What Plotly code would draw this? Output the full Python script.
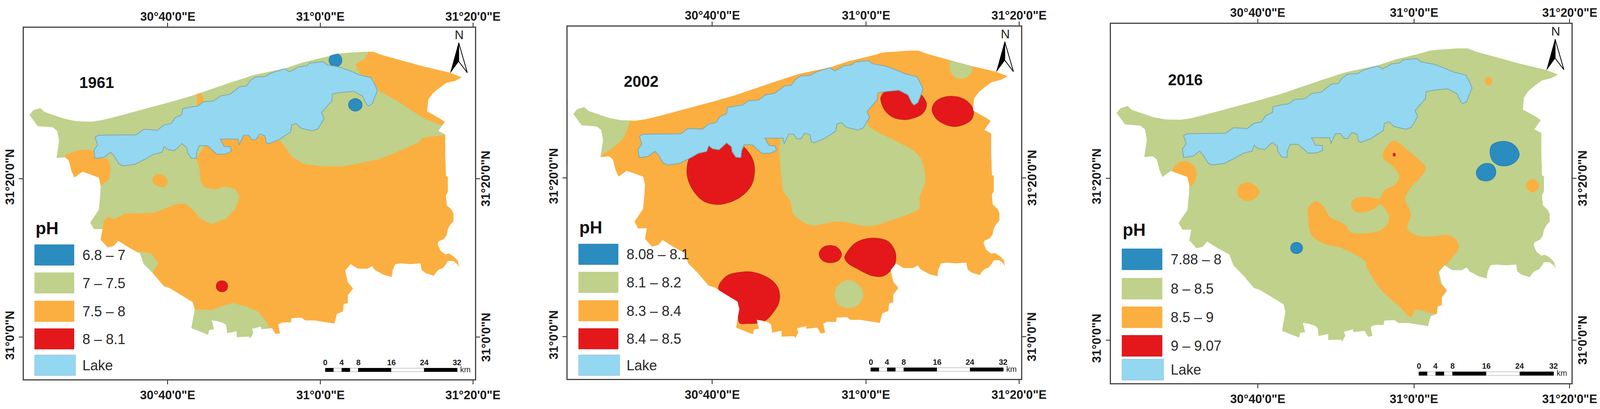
# plot.py - three pH maps of the same governorate (1961, 2002, 2016)
import plotly.graph_objects as go

# All polygons are (x, y) readings on one map grid shared by the three panels.
# The tick positions below tie that grid to longitude and latitude.
LON_TICKS = [437, 845, 1252]
LON_LABELS = ["30°40'0\"E", "31°0'0\"E", "31°20'0\"E"]
LAT_TICKS = [460, 868]
LAT_LABELS = ["31°20'0\"N", "31°0'0\"N"]

OUTLINE = [
    (68, 296), (78, 284), (97, 278), (108, 288), (135, 297), (163, 306), (195, 312), (235, 313),
    (262, 309), (300, 300), (350, 287), (400, 274), (450, 261), (500, 247), (600, 214), (667, 193),
    (750, 176), (800, 160), (865, 145), (885, 139), (900, 137), (960, 133), (985, 133), (1010, 142),
    (1060, 155), (1120, 171), (1190, 187), (1222, 199), (1205, 208), (1180, 214), (1160, 228),
    (1145, 240), (1133, 256), (1130, 281), (1130, 287), (1165, 306), (1177, 314), (1168, 326),
    (1160, 337), (1178, 346), (1178, 399), (1180, 453), (1185, 455), (1185, 494), (1180, 503),
    (1182, 528), (1195, 540), (1200, 550), (1200, 570), (1192, 578), (1185, 590), (1182, 605),
    (1175, 615), (1160, 622), (1158, 628), (1165, 645), (1178, 655), (1188, 653), (1200, 660),
    (1212, 672), (1215, 688), (1210, 680), (1200, 672), (1185, 672), (1180, 680), (1172, 690),
    (1160, 695), (1152, 703), (1148, 710), (1125, 703), (1115, 695), (1112, 678), (1085, 680),
    (1060, 678), (1045, 680), (1038, 695), (1035, 713), (1015, 708), (990, 695), (983, 685),
    (970, 692), (945, 692), (925, 680), (911, 697), (918, 727), (932, 743), (918, 760), (918, 780),
    (907, 783), (905, 802), (889, 808), (882, 833), (829, 825), (804, 825), (795, 818), (768, 819),
    (766, 830), (743, 830), (732, 835), (737, 858), (725, 860), (716, 845), (687, 848), (686, 841),
    (662, 847), (666, 857), (657, 873), (655, 867), (621, 868), (621, 853), (596, 858), (593, 837),
    (586, 832), (570, 827), (555, 825), (561, 848), (548, 850), (545, 862), (500, 845), (505, 817),
    (509, 797), (504, 778), (486, 767), (443, 742), (427, 737), (397, 703), (373, 680), (363, 653),
    (333, 637), (305, 620), (293, 633), (277, 637), (258, 617), (263, 590), (240, 590), (230, 573),
    (253, 540), (257, 500), (258, 477), (253, 457), (210, 442), (188, 457), (180, 440), (173, 413),
    (163, 405), (140, 407), (147, 363), (142, 337), (130, 328), (90, 325),
]

LAKE = [
    (243, 353), (253, 348), (353, 347), (373, 333), (410, 335), (427, 322), (447, 318), (457, 303),
    (475, 295), (477, 280), (500, 275), (517, 273), (533, 262), (560, 260), (578, 247), (603, 243),
    (630, 223), (647, 222), (657, 208), (672, 198), (697, 197), (713, 188), (750, 177), (762, 185),
    (777, 178), (787, 172), (807, 170), (817, 162), (852, 159), (863, 167), (897, 173), (923, 182),
    (950, 193), (980, 200), (988, 213), (997, 233), (983, 267), (973, 273), (967, 267), (957, 247),
    (933, 235), (900, 238), (877, 242), (875, 260), (848, 290), (855, 305), (838, 332), (823, 337),
    (793, 330), (780, 318), (768, 322), (765, 340), (733, 360), (707, 370), (700, 367), (697, 350),
    (683, 345), (672, 360), (662, 360), (653, 348), (640, 348), (628, 373), (625, 358), (577, 358),
    (588, 377), (605, 378), (607, 390), (590, 397), (568, 397), (543, 375), (522, 375), (515, 390),
    (513, 408), (500, 407), (490, 393), (488, 380), (475, 370), (455, 388), (437, 385), (428, 377),
    (422, 392), (400, 397), (380, 408), (350, 423), (317, 427), (307, 422), (293, 400), (285, 392),
    (267, 405), (243, 408), (240, 387), (250, 373),
]

# 1961 zones, base colour is the 7 - 7.5 class
ORANGE_1961_NE = [
    (973, 125), (972, 137), (962, 153), (938, 165), (950, 190), (987, 203), (988, 217), (1003, 235),
    (1050, 260), (1100, 292), (1133, 310), (1168, 322), (1200, 322), (1240, 200), (1230, 125),
]
ORANGE_1961_SW = [
    (167, 398), (197, 387), (227, 385), (240, 390), (243, 407), (277, 408), (285, 433), (280, 463),
    (267, 473), (240, 490), (150, 470), (150, 420),
]
ORANGE_1961_COAST = [(515, 240), (527, 240), (535, 257), (520, 273), (515, 272)]
ORANGE_1961_SPOT = [(397, 460), (405, 450), (420, 449), (433, 458), (436, 472), (428, 481), (412, 480), (400, 472)]
ORANGE_1961_MAIN = [
    (1230, 347), (1178, 347), (1117, 355), (1107, 367), (1043, 394), (1000, 410), (967, 417),
    (907, 428), (847, 428), (800, 422), (767, 403), (750, 377), (737, 363), (700, 350), (580, 350),
    (540, 370), (513, 408), (522, 433), (525, 467), (536, 483), (561, 488), (589, 480), (618, 487),
    (629, 507), (618, 537), (593, 563), (554, 577), (525, 563), (504, 540), (486, 525), (461, 525),
    (400, 548), (323, 550), (293, 565), (277, 558), (267, 567), (263, 590), (240, 640), (300, 660),
    (355, 665), (360, 647), (393, 653), (412, 677), (397, 703), (395, 730), (420, 760), (480, 790),
    (500, 810), (509, 797), (554, 798), (586, 787), (611, 780), (650, 790), (679, 803), (696, 823),
    (709, 843), (712, 880), (900, 900), (1230, 800),
]
BLUE_1961_A = [(868, 155), (873, 143), (885, 138), (897, 143), (902, 155), (897, 167), (885, 172), (873, 167)]
BLUE_1961_B = [(920, 270), (925, 259), (938, 254), (951, 259), (956, 270), (951, 281), (938, 286), (925, 281)]
RED_1961 = [(567, 737), (571, 727), (582, 723), (593, 727), (597, 737), (593, 747), (582, 751), (571, 747)]

# 2002 zones, base colour is the 8.3 - 8.4 class
GREEN_2002_NW = [(219, 311), (212, 334), (199, 361), (174, 382), (143, 402), (120, 420), (40, 420), (40, 260), (219, 260)]
GREEN_2002_MID = [
    (617, 361), (615, 381), (620, 450), (626, 494), (644, 519), (652, 552), (676, 572), (705, 582),
    (770, 572), (853, 584), (903, 572), (961, 552), (986, 539), (988, 509), (1003, 468), (992, 413),
    (974, 392), (930, 368), (854, 328), (845, 310), (800, 300), (700, 300), (617, 330),
]
GREEN_2002_NE = [(1068, 182), (1072, 155), (1090, 150), (1125, 160), (1127, 185), (1115, 200), (1095, 206), (1078, 198)]
GREEN_2002_S = [(762, 760), (772, 735), (799, 723), (826, 735), (838, 760), (826, 785), (799, 795), (772, 785)]
RED_2002_W = [
    (370, 447), (376, 410), (398, 385), (440, 360), (490, 360), (525, 385), (545, 415), (549, 445),
    (540, 480), (510, 510), (470, 526), (447, 528), (415, 520), (390, 497), (375, 470),
]
RED_2002_NE = [
    (885, 254), (897, 238), (925, 230), (960, 235), (990, 245), (1006, 272), (995, 295), (965, 308),
    (943, 310), (915, 303), (895, 285), (887, 268),
]
RED_2002_E = [
    (1021, 285), (1030, 265), (1050, 254), (1077, 251), (1105, 258), (1125, 275), (1131, 290),
    (1125, 310), (1105, 323), (1079, 328), (1050, 320), (1030, 305),
]
RED_2002_SM = [(721, 656), (730, 640), (750, 634), (770, 640), (780, 656), (772, 672), (750, 678), (730, 672)]
RED_2002_SE = [
    (789, 665), (800, 645), (820, 626), (861, 615), (903, 623), (918, 640), (924, 656), (920, 686),
    (891, 712), (861, 711), (820, 692), (799, 680),
]
RED_2002_S = [
    (454, 744), (475, 713), (510, 703), (541, 702), (575, 712), (599, 727), (612, 745), (616, 763),
    (612, 785), (599, 805), (580, 825), (558, 833), (530, 834), (510, 833), (506, 815), (504, 790), (490, 770),
]

# 2016 zones, base colour is the 8 - 8.5 class
ORANGE_2016_MAIN = [
    (793, 366), (812, 376), (824, 386), (854, 410), (876, 434), (863, 457), (837, 484), (822, 511),
    (832, 535), (837, 554), (828, 587), (854, 605), (890, 607), (932, 603), (955, 615), (962, 636),
    (945, 660), (932, 675), (910, 695), (912, 720), (930, 745), (925, 790), (904, 802), (850, 792),
    (837, 810), (811, 787), (759, 741), (724, 689), (716, 669), (655, 636), (612, 626), (577, 603),
    (569, 564), (569, 534), (590, 518), (608, 531), (625, 557), (664, 577), (681, 597), (716, 599),
    (763, 588), (780, 564), (776, 547), (755, 526), (742, 537), (711, 546), (690, 544), (681, 527),
    (690, 512), (716, 507), (740, 510), (755, 511), (768, 491), (798, 474), (806, 454), (789, 430),
    (763, 407), (772, 383),
]
ORANGE_2016_W = [(244, 417), (225, 425), (214, 440), (210, 470), (262, 480), (275, 462), (276, 440), (265, 425)]
ORANGE_2016_W2 = [(383, 494), (390, 478), (410, 470), (430, 478), (441, 494), (432, 510), (410, 518), (390, 510)]
ORANGE_2016_NE = [(1030, 215), (1033, 208), (1040, 205), (1047, 208), (1050, 215), (1047, 223), (1040, 226), (1033, 223)]
ORANGE_2016_E = [(1138, 479), (1144, 467), (1155, 463), (1166, 467), (1172, 479), (1166, 491), (1155, 496), (1144, 491)]
BLUE_2016_A = [
    (1072, 368), (1050, 376), (1044, 393), (1050, 415), (1062, 425), (1077, 429), (1100, 425),
    (1116, 412), (1120, 400), (1112, 382), (1095, 370),
]
BLUE_2016_B = [(1037, 423), (1020, 428), (1008, 445), (1015, 462), (1034, 467), (1052, 460), (1059, 445), (1052, 428)]
BLUE_2016_C = [(523, 636), (527, 626), (538, 622), (549, 626), (554, 636), (549, 646), (538, 650), (527, 646)]
RED_2016 = [(791, 398), (796, 398), (796, 404), (791, 404)]

YEARS = ["1961", "2002", "2016"]
LEGEND_1961 = ["6.8 – 7", "7 – 7.5", "7.5 – 8", "8 – 8.1", "Lake"]
LEGEND_2002 = ["8.08 – 8.1", "8.1 – 8.2", "8.3 – 8.4", "8.4 – 8.5", "Lake"]
LEGEND_2016 = ["7.88 – 8", "8 – 8.5", "8.5 – 9", "9 – 9.07", "Lake"]
SCALE_LABELS = [0, 4, 8, 16, 24, 32]
SCALE_EDGES = [0, 2, 4, 6, 8, 16, 24, 32]

BLUE = "#2B8CC0"
GREEN = "#BFD18B"
ORANGE = "#FBAF40"
RED = "#E4181A"
LAKE_BLUE = "#93D7F1"
CLASS_COLORS = [BLUE, GREEN, ORANGE, RED, LAKE_BLUE]
EDGES = {BLUE: "#2A7FAE", RED: "#C5201F"}

FONT = "Liberation Sans"
BODY_MARGIN = 8  # the page keeps its default body margin
PAGE_W, PAGE_H = 4267, 1046
WINDOW_W = 4168  # width the figure is laid out for
FIG_W = WINDOW_W - 2 * BODY_MARGIN
FIG_H = PAGE_H - 2 * BODY_MARGIN
X_RANGE = [53, 1257]
Y_RANGE = [977, 71]
# frame of each panel on the reference: left, right, top, bottom
FRAMES = [(53, 1257, 71, 977), (1505, 2715, 68, 976), (2955, 4185, 61, 987)]

fig = go.Figure()


def page_x(px):
    return (px / PAGE_W * WINDOW_W - BODY_MARGIN) / FIG_W


def page_y(py):
    return 1 - (py - BODY_MARGIN) / FIG_H


def add_zone(points, color, suffix, smooth=False):
    xs = [p[0] for p in points] + [points[0][0]]
    ys = [p[1] for p in points] + [points[0][1]]
    edge = EDGES.get(color, color)
    fig.add_trace(go.Scatter(
        x=xs, y=ys, xaxis=f"x{suffix}", yaxis=f"y{suffix}", mode="lines", fill="toself", fillcolor=color,
        line=dict(color=edge, width=2 if color in EDGES else 0, shape="spline" if smooth else "linear"),
        hoverinfo="skip", showlegend=False,
    ))


def add_base(color, suffix):
    add_zone(OUTLINE, color, suffix)


def add_lake_and_mask(suffix):
    xs = [p[0] for p in LAKE] + [LAKE[0][0]]
    ys = [p[1] for p in LAKE] + [LAKE[0][1]]
    fig.add_trace(go.Scatter(
        x=xs, y=ys, xaxis=f"x{suffix}", yaxis=f"y{suffix}", mode="lines", fill="toself", fillcolor=LAKE_BLUE,
        line=dict(color="#7FA8AC", width=2), hoverinfo="skip", showlegend=False,
    ))
    # white keyhole polygon: everything in the frame outside the outline, trims the zones to the coast
    ring = OUTLINE + OUTLINE[:1]
    ring = ring[::-1]
    xs = [X_RANGE[0], X_RANGE[1], X_RANGE[1], X_RANGE[0], X_RANGE[0]] + [p[0] for p in ring] + [X_RANGE[0], X_RANGE[0]]
    ys = [Y_RANGE[1], Y_RANGE[1], Y_RANGE[0], Y_RANGE[0], ring[0][1]] + [p[1] for p in ring] + [ring[0][1], Y_RANGE[1]]
    fig.add_trace(go.Scatter(
        x=xs, y=ys, xaxis=f"x{suffix}", yaxis=f"y{suffix}", mode="lines", fill="toself", fillcolor="white",
        line=dict(color="rgba(0,0,0,0)", width=0), hoverinfo="skip", showlegend=False,
    ))


def add_text(suffix, x, y, text, size, bold=False, angle=0, anchor="center", color="#1a1a1a"):
    fig.add_annotation(
        xref=f"x{suffix}", yref=f"y{suffix}", x=x, y=y, text=text, showarrow=False, textangle=angle, xanchor=anchor,
        font=dict(family=FONT, size=size, color=color, weight=700 if bold else 400),
    )


def add_rect(suffix, x0, x1, y0, y1, fill, line=None, width=1):
    fig.add_shape(
        type="rect", xref=f"x{suffix}", yref=f"y{suffix}", x0=x0, x1=x1, y0=y0, y1=y1, fillcolor=fill,
        line=dict(color=line or fill, width=width),
    )


def add_furniture(suffix, year, labels, tops, ph_y, frame):
    add_text(suffix, 248, 212, year, 40, bold=True, color="#111111")

    # legend
    add_text(suffix, 82, ph_y, "pH", 44, bold=True, anchor="left", color="#111111")
    for i, (label, color, top) in enumerate(zip(labels, CLASS_COLORS, tops)):
        right = 191 if label == "Lake" else 187
        add_rect(suffix, 82, right, top, top + 53, color, EDGES.get(color, "#9CBCC9" if label == "Lake" else color))
        add_text(suffix, 207, top + 27, label, 36, anchor="left", color="#2a2a2a")

    # north arrow
    add_text(suffix, 1215, 90, "N", 32, color="#222222")
    fig.add_shape(type="path", xref=f"x{suffix}", yref=f"y{suffix}",
                  path="M 1214 110 L 1192 187 L 1214 158 Z", fillcolor="black", line=dict(color="black", width=1))
    fig.add_shape(type="path", xref=f"x{suffix}", yref=f"y{suffix}",
                  path="M 1214 110 L 1237 187 L 1214 158 Z", fillcolor="white", line=dict(color="black", width=2))

    # scale bar, 11 grid units per km
    for i in range(len(SCALE_EDGES) - 1):
        x0 = 858 + SCALE_EDGES[i] * 11
        x1 = 858 + SCALE_EDGES[i + 1] * 11
        add_rect(suffix, x0, x1, 948, 957, "black" if i % 2 == 0 else "white", "black" if i % 2 == 0 else "#999999")
    for km in SCALE_LABELS:
        add_text(suffix, 858 + km * 11, 933, str(km), 20, bold=True)
    add_text(suffix, 1232, 951, "km", 20)

    # labels on the top and right edges sit outside the axis ranges, so they go on paper coordinates
    left, right, top, bottom = frame
    x_scale = (right - left) / (X_RANGE[1] - X_RANGE[0])
    y_scale = (bottom - top) / (Y_RANGE[0] - Y_RANGE[1])
    for tick, label in zip(LON_TICKS, LON_LABELS):
        fig.add_annotation(
            xref="paper", yref="paper", x=page_x(left + (tick - X_RANGE[0]) * x_scale), y=page_y(top - 28), text=label,
            xanchor="center", yanchor="middle", showarrow=False, font=dict(family=FONT, size=31, color="#1a1a1a", weight=700),
        )
    for tick, label in zip(LAT_TICKS, LAT_LABELS):
        fig.add_annotation(
            xref="paper", yref="paper", x=page_x(right + 30), y=page_y(top + (tick - Y_RANGE[1]) * y_scale), text=label,
            xanchor="center", yanchor="middle", showarrow=False, textangle=-90,
            font=dict(family=FONT, size=31, color="#1a1a1a", weight=700),
        )


# 1961
add_base(GREEN, "")
for zone in [ORANGE_1961_MAIN, ORANGE_1961_NE, ORANGE_1961_SW, ORANGE_1961_COAST]:
    add_zone(zone, ORANGE, "")
add_zone(ORANGE_1961_SPOT, ORANGE, "", smooth=True)
add_zone(BLUE_1961_A, BLUE, "", smooth=True)
add_zone(BLUE_1961_B, BLUE, "", smooth=True)
add_zone(RED_1961, RED, "", smooth=True)
add_lake_and_mask("")
add_furniture("", YEARS[0], LEGEND_1961, [630, 702, 775, 846, 914], 587, FRAMES[0])

# 2002
add_base(ORANGE, "2")
add_zone(GREEN_2002_NW, GREEN, "2")
for zone in [GREEN_2002_MID, GREEN_2002_NE, GREEN_2002_S]:
    add_zone(zone, GREEN, "2", smooth=True)
for zone in [RED_2002_W, RED_2002_NE, RED_2002_E, RED_2002_SM, RED_2002_SE, RED_2002_S]:
    add_zone(zone, RED, "2", smooth=True)
add_lake_and_mask("2")
add_furniture("2", YEARS[1], LEGEND_2002, [630, 702, 775, 847, 915], 587, FRAMES[1])

# 2016
add_base(GREEN, "3")
for zone in [ORANGE_2016_MAIN, ORANGE_2016_W, ORANGE_2016_W2, ORANGE_2016_NE, ORANGE_2016_E]:
    add_zone(zone, ORANGE, "3", smooth=True)
for zone in [BLUE_2016_A, BLUE_2016_B, BLUE_2016_C]:
    add_zone(zone, BLUE, "3", smooth=True)
add_zone(RED_2016, RED, "3")
add_lake_and_mask("3")
add_furniture("3", YEARS[2], LEGEND_2016, [638, 712, 784, 856, 916], 590, FRAMES[2])

axis_style = dict(
    showgrid=False, zeroline=False, showline=True, mirror="ticks", linecolor="#444444", linewidth=3,
    ticks="outside", ticklen=10, tickwidth=2, tickcolor="#222222",
    tickfont=dict(family=FONT, size=31, color="#1a1a1a", weight=700), fixedrange=True,
)
layout_axes = {}
for n, (left, right, top, bottom) in enumerate(FRAMES, start=1):
    suffix = "" if n == 1 else str(n)
    layout_axes[f"xaxis{suffix}"] = dict(
        axis_style, range=X_RANGE, domain=[page_x(left), page_x(right)], anchor=f"y{suffix}",
        tickmode="array", tickvals=LON_TICKS, ticktext=LON_LABELS, tickangle=0,
    )
    layout_axes[f"yaxis{suffix}"] = dict(
        axis_style, range=Y_RANGE, domain=[page_y(bottom), page_y(top)], anchor=f"x{suffix}",
        tickmode="array", tickvals=LAT_TICKS, ticktext=LAT_LABELS, tickangle=-90,
    )

fig.update_layout(
    width=FIG_W, height=FIG_H, margin=dict(l=0, r=0, t=0, b=0), autosize=False,
    paper_bgcolor="white", plot_bgcolor="white", showlegend=False, **layout_axes,
)

fig.write_html("out.html")
